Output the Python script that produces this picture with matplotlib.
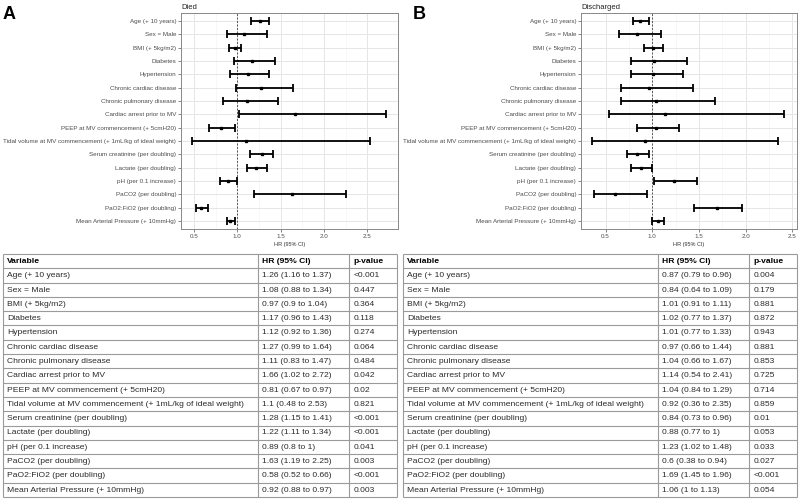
import matplotlib
matplotlib.use('Agg')
import matplotlib.pyplot as plt
import numpy as np

plt.rcParams['font.family'] = ['Liberation Sans', 'DejaVu Sans']

variables = [
    "Age (+ 10 years)",
    "Sex = Male",
    "BMI (+ 5kg/m2)",
    "Diabetes",
    "Hypertension",
    "Chronic cardiac disease",
    "Chronic pulmonary disease",
    "Cardiac arrest prior to MV",
    "PEEP at MV commencement (+ 5cmH20)",
    "Tidal volume at MV commencement (+ 1mL/kg of ideal weight)",
    "Serum creatinine (per doubling)",
    "Lactate (per doubling)",
    "pH (per 0.1 increase)",
    "PaCO2 (per doubling)",
    "PaO2:FiO2 (per doubling)",
    "Mean Arterial Pressure (+ 10mmHg)",
]

died_hr = [1.26, 1.08, 0.97, 1.17, 1.12, 1.27, 1.11, 1.66, 0.81, 1.1, 1.28, 1.22, 0.89, 1.63, 0.58, 0.92]
died_lo = [1.16, 0.88, 0.9, 0.96, 0.92, 0.99, 0.83, 1.02, 0.67, 0.48, 1.15, 1.11, 0.8, 1.19, 0.52, 0.88]
died_hi = [1.37, 1.34, 1.04, 1.43, 1.36, 1.64, 1.47, 2.72, 0.97, 2.53, 1.41, 1.34, 1.0, 2.25, 0.66, 0.97]
died_p = ["<0.001", "0.447", "0.364", "0.118", "0.274", "0.064", "0.484", "0.042",
          "0.02", "0.821", "<0.001", "<0.001", "0.041", "0.003", "<0.001", "0.003"]

dis_hr = [0.87, 0.84, 1.01, 1.02, 1.01, 0.97, 1.04, 1.14, 1.04, 0.92, 0.84, 0.88, 1.23, 0.6, 1.69, 1.06]
dis_lo = [0.79, 0.64, 0.91, 0.77, 0.77, 0.66, 0.66, 0.54, 0.84, 0.36, 0.73, 0.77, 1.02, 0.38, 1.45, 1.0]
dis_hi = [0.96, 1.09, 1.11, 1.37, 1.33, 1.44, 1.67, 2.41, 1.29, 2.35, 0.96, 1.0, 1.48, 0.94, 1.96, 1.13]
dis_p = ["0.004", "0.179", "0.881", "0.872", "0.943", "0.881", "0.853", "0.725",
         "0.714", "0.859", "0.01", "0.053", "0.033", "0.027", "<0.001", "0.054"]

x_ticks = [0.5, 1.0, 1.5, 2.0, 2.5]
x_ticklabels = ["0.5", "1.0", "1.5", "2.0", "2.5"]
header = ["Variable", "HR (95% CI)", "p-value"]

fig = plt.figure(figsize=(8, 5), dpi=100)


def forest(rect, hr, lo, hi, xlim, title):
    ax = fig.add_axes(rect)
    n = len(variables)
    y = np.arange(n)[::-1]
    hr = np.array(hr); lo = np.array(lo); hi = np.array(hi)
    ax.errorbar(hr, y, xerr=[hr - lo, hi - hr], fmt='s', color='black',
                ms=2.0, elinewidth=1.3, capsize=3.2, capthick=1.3, zorder=3)
    ax.axvline(1, color='#555555', ls=(0, (2, 1.6)), lw=0.7, zorder=2)
    ax.set_xlim(xlim)
    ax.set_ylim(-0.6, n - 0.4)
    ax.set_yticks(y)
    ax.set_yticklabels(variables, fontsize=4.5, color='#4d4d4d')
    ax.set_xticks(x_ticks)
    ax.set_xticklabels(x_ticklabels, fontsize=4.5, color='#4d4d4d')
    ax.set_xticks([0.75, 1.25, 1.75, 2.25], minor=True)
    ax.tick_params(which='major', length=2, width=0.5, color='#555555', pad=1.5)
    ax.tick_params(which='minor', length=0)
    ax.grid(which='major', color='#e6e6e6', lw=0.7)
    ax.grid(which='minor', axis='x', color='#f2f2f2', lw=0.4)
    ax.set_axisbelow(True)
    for s in ax.spines.values():
        s.set_color('#888888')
        s.set_linewidth(0.7)
    ax.set_xlabel("HR (95% CI)", fontsize=4, color='#333333', labelpad=2)
    ax.set_title(title, loc='left', fontsize=5.5, pad=3, color='#222222')
    return ax


def table(rect, hr, lo, hi, p):
    ax = fig.add_axes(rect)
    rows = [header] + [[v, f"{h:g} ({l:g} to {u:g})", pv]
                       for v, h, l, u, pv in zip(variables, hr, lo, hi, p)]
    nr = len(rows)
    ax.set_xlim(0, 1)
    ax.set_ylim(nr, 0)
    ax.axis('off')
    edges = [0, 0.647, 0.878, 1]
    for i, row in enumerate(rows):
        for j, txt in enumerate(row):
            ax.text(edges[j] + 0.011, i + 0.52, txt, va='center', ha='left',
                    fontsize=6.1, color='#2a2a2a' if i else 'black',
                    fontweight='bold' if i == 0 else 'normal')
    ax.hlines(np.arange(nr + 1), 0, 1, color='#9a9a9a', lw=0.8, clip_on=False)
    ax.vlines(edges, 0, nr, color='#9a9a9a', lw=0.8, clip_on=False)
    return ax


forest([181 / 800, 1 - 229 / 500, 217 / 800, 216 / 500], died_hr, died_lo, died_hi, (0.351, 2.853), "Died")
forest([581 / 800, 1 - 229 / 500, 216 / 800, 216 / 500], dis_hr, dis_lo, dis_hi, (0.237, 2.549), "Discharged")
table([3 / 800, 3 / 500, 394 / 800, 243 / 500], died_hr, died_lo, died_hi, died_p)
table([403 / 800, 3 / 500, 394 / 800, 243 / 500], dis_hr, dis_lo, dis_hi, dis_p)

fig.text(3 / 800, 1 - 19 / 500, "A", fontsize=13, fontweight='bold', ha='left', va='baseline')
fig.text(413 / 800, 1 - 19 / 500, "B", fontsize=13, fontweight='bold', ha='left', va='baseline')

fig.savefig("out.png", dpi=100)
